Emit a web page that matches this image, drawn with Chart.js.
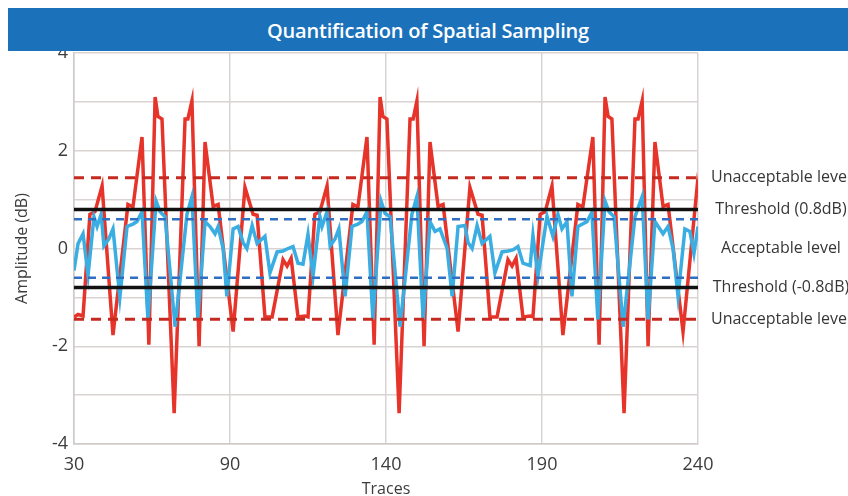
<!DOCTYPE html>
<html>
<head>
<meta charset="utf-8">
<script src="https://cdn.jsdelivr.net/npm/chart.js@4.4.1/dist/chart.umd.min.js"></script>
<style>
  body { margin: 0; background: #ffffff; }
  #wrap { position: relative; width: 848px; height: 496px; }
  #titleBar {
    position: absolute; left: 8px; top: 8px; width: 840px; height: 43px;
    background: #1b72bb; color: #fff; z-index: 2;
    font: 600 20px "Open Sans", sans-serif; text-align: center; line-height: 45px;
    letter-spacing: -0.2px;
  }
  canvas { position: absolute; left: 0; top: 0; }
</style>
</head>
<body>
<div id="wrap">
  <div id="titleBar">Quantification of Spatial Sampling</div>
  <canvas id="samplingChart" width="848" height="496"></canvas>
</div>
<script>
// x axis: 5 evenly spaced ticks, labelled with trace numbers
const xTickLabels = ['30', '90', '140', '190', '240'];

// red trace (x position along axis 0..200, amplitude dB)
const redX = [0, 1.3, 2.9, 5.1, 6.7, 9.0, 12.5, 17.3, 18.9, 21.8, 24.0, 26.0, 26.9, 28.2, 32.1, 35.6, 36.5, 37.8, 40.1, 42.0,
  44.6, 46.2, 51.0, 54.8, 57.4, 58.7, 61.2, 63.5, 67.0, 68.3, 69.6, 71.8,
  74.0, 75.0, 77.2, 78.8, 81.1, 84.6, 89.4, 91.0, 93.9, 96.2, 98.1, 99.0, 100.3, 104.2, 107.7, 108.7, 109.9, 112.2,
  114.1, 116.7, 118.3, 123.1, 126.9, 129.5, 130.8, 133.3, 135.6, 139.1, 140.4, 141.7, 143.9,
  146.2, 147.1, 149.4, 151.0, 153.2, 156.7, 161.5, 163.1, 166.3, 168.3, 170.2, 171.2, 172.4, 176.3, 179.8, 180.8, 182.1, 184.0,
  186.2, 188.8, 190.4, 195.2, 199.7, 200];
const redY = [-1.4, -1.35, -1.38, 0.7, 0.75, 1.28, -1.77, 0.9, 0.85, 2.28, -1.97, 3.1, 2.7, 2.65, -3.37, 2.65, 2.65, 3.02, -2.0, 2.18,
  0.86, 0.9, -1.7, 1.25, 0.7, 0.68, -1.4, -1.4, -0.23, -0.36, -0.2, -1.4,
  -1.38, -1.4, 0.7, 0.75, 1.28, -1.77, 0.9, 0.85, 2.28, -1.97, 3.1, 2.7, 2.65, -3.37, 2.65, 2.65, 3.02, -2.0,
  2.18, 0.86, 0.9, -1.7, 1.25, 0.7, 0.68, -1.4, -1.4, -0.23, -0.36, -0.2, -1.4,
  -1.38, -1.4, 0.7, 0.75, 1.28, -1.77, 0.9, 0.85, 2.28, -1.97, 3.1, 2.7, 2.65, -3.37, 2.65, 2.65, 3.02, -2.0,
  2.18, 0.86, 0.9, -1.7, 1.25, 1.1];

// blue trace
const blueX = [0, 1.3, 2.9, 4.5, 6.4, 7.4, 8.7, 9.6, 11.2, 12.5, 14.7, 17.0, 18.9, 20.2, 21.8, 23.7, 26.3, 27.6, 29.2, 32.4,
  36.2, 37.8, 39.7, 42.0, 43.6, 45.2, 46.2, 47.8, 49.0, 51.0, 52.6, 54.2, 55.4, 57.1, 58.7, 61.2, 62.8, 65.1, 67.0, 68.6, 70.2, 71.8,
  73.4, 75.0, 76.6, 78.8, 79.5, 81.1, 82.1, 83.7, 84.9, 86.9, 89.1, 91.0, 92.3, 93.9, 95.8, 98.4, 99.7, 101.3, 104.5,
  108.3, 109.9, 111.9, 114.1, 115.7, 117.3, 119.6, 121.2, 123.1, 125.3, 126.3, 127.6, 129.2, 130.8, 133.3, 134.9, 137.2, 139.1, 140.7, 142.3, 143.9,
  146.2, 147.1, 148.7, 151.6, 153.5, 155.1, 156.4, 158.0, 159.6, 161.5, 164.4, 166.0, 167.9, 170.2, 171.5, 173.1, 176.0,
  179.8, 182.1, 184.0, 186.2, 188.8, 190.4, 192.0, 193.6, 195.8, 197.4, 198.7, 200];
const blueY = [-0.45, 0.1, 0.3, -0.55, 0.65, 0.45, 0.7, 0.05, 0.2, 0.4, -1.0, 0.45, 0.5, 0.55, 0.75, -1.45, 0.97, 0.75, 0.65, -1.6,
  0.7, 1.06, -1.45, 0.55, 0.45, 0.3, 0.45, 0.0, -0.98, 0.4, 0.45, 0.12, 0.0, 0.47, 0.1, 0.25, -0.5, -0.07, -0.05, 0.0, 0.04, -0.3,
  -0.32, 0.29, -0.57, 0.66, 0.45, 0.75, 0.05, 0.2, 0.4, -0.98, 0.45, 0.5, 0.55, 0.75, -1.45, 0.97, 0.72, 0.65, -1.6,
  0.7, 1.06, -1.45, 0.55, 0.35, 0.4, 0.0, -0.98, 0.45, 0.47, 0.12, 0.0, 0.47, 0.1, 0.25, -0.5, -0.07, -0.05, -0.03, 0.04, -0.3,
  -0.35, 0.27, -0.57, 0.66, 0.25, 0.7, 0.4, 0.55, -0.98, 0.45, 0.55, 0.74, -1.45, 0.97, 0.75, 0.65, -1.6,
  0.65, 1.06, -1.45, 0.55, 0.3, 0.45, 0.0, -0.98, 0.4, 0.35, -0.1, 0.45];

// reference levels (dB)
const unacceptableLevel = 1.45;
const thresholdLevel = 0.8;
const acceptableLevel = 0.6;

const sideLabels = ['Unacceptable level', 'Threshold (0.8dB)', 'Acceptable level', 'Threshold (-0.8dB)', 'Unacceptable level'];
const sideLabelValues = [unacceptableLevel, thresholdLevel, 0, -thresholdLevel, -unacceptableLevel];

const toPoints = (xs, ys) => xs.map((x, i) => ({ x: x, y: ys[i] }));
const flat = v => [{ x: 0, y: v }, { x: 200, y: v }];

const refLine = (v, color, width, dash) => ({
  data: flat(v), borderColor: color, borderWidth: width, borderDash: dash, pointRadius: 0
});

const sideLabelPlugin = {
  id: 'sideLabels',
  afterDraw(chart) {
    const ctx = chart.ctx;
    const yScale = chart.scales.y;
    const cx = chart.chartArea.right + 83;
    ctx.save();
    ctx.font = '16px "Open Sans", sans-serif';
    ctx.fillStyle = '#363636';
    ctx.textAlign = 'center';
    ctx.textBaseline = 'middle';
    sideLabels.forEach((txt, i) => {
      ctx.fillText(txt, cx, yScale.getPixelForValue(sideLabelValues[i]));
    });
    ctx.restore();
  }
};

new Chart('samplingChart', {
  type: 'line',
  data: {
    datasets: [
      refLine(thresholdLevel, '#111111', 3.5, []),
      refLine(-thresholdLevel, '#111111', 3.5, []),
      refLine(acceptableLevel, '#2f6ec0', 2.5, [8, 6]),
      refLine(-acceptableLevel, '#2f6ec0', 2.5, [8, 6]),
      refLine(unacceptableLevel, '#c52a20', 3, [10, 7]),
      refLine(-unacceptableLevel, '#c52a20', 3, [10, 7]),
      { data: toPoints(blueX, blueY), borderColor: '#3aaee2', borderWidth: 3.5, pointRadius: 0, tension: 0 },
      { data: toPoints(redX, redY), borderColor: '#e6342a', borderWidth: 3.5, pointRadius: 0, tension: 0 }
    ]
  },
  options: {
    responsive: false,
    animation: false,
    layout: { padding: { top: 53, right: 150, left: 0, bottom: 0 }, autoPadding: false },
    plugins: { legend: { display: false }, tooltip: { enabled: false } },
    scales: {
      x: {
        type: 'linear', min: 0, max: 200,
        afterFit(scale) { scale.height = 52; },
        grid: { color: '#d9d3d1', lineWidth: 1.5, drawTicks: false },
        border: { color: '#cfc9c7', width: 1.5 },
        ticks: {
          stepSize: 50, padding: 10, color: '#3c3c3c',
          font: { family: 'Open Sans', size: 18 },
          callback: v => xTickLabels[Math.round(v / 50)]
        },
        title: { display: true, text: 'Traces', color: '#3c3c3c', padding: { top: 0, bottom: -3 },
          font: { family: 'Open Sans', size: 16 } }
      },
      y: {
        min: -4, max: 4,
        afterFit(scale) { scale.width = 74; },
        grid: { color: '#d9d3d1', lineWidth: 1.5, drawTicks: false },
        border: { color: '#cfc9c7', width: 1.5 },
        ticks: {
          stepSize: 1, padding: 6, color: '#3c3c3c',
          font: { family: 'Open Sans', size: 18 },
          callback: v => (v % 2 === 0 ? String(v) : '')
        },
        title: { display: true, text: 'Amplitude (dB)', color: '#3c3c3c', padding: { top: 13, bottom: 0 },
          font: { family: 'Open Sans', size: 16 } }
      }
    }
  },
  plugins: [sideLabelPlugin]
});
</script>
</body>
</html>
